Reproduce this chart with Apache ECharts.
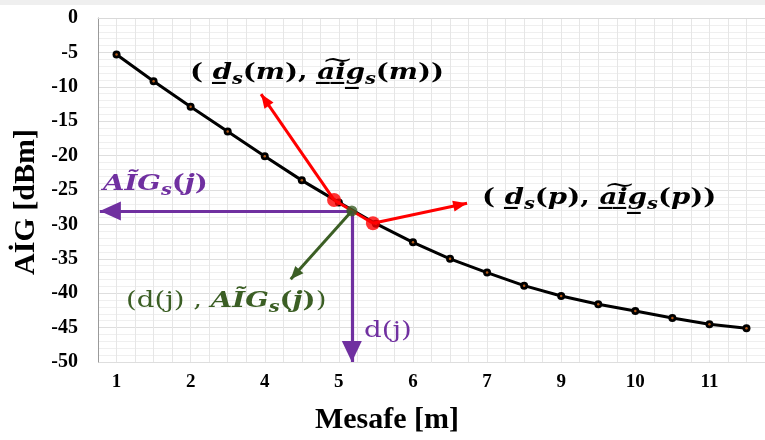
<!DOCTYPE html>
<html>
<head>
<meta charset="utf-8">
<script src="https://cdn.jsdelivr.net/npm/echarts@6/dist/echarts.min.js"></script>
<style>
  html, body { margin: 0; padding: 0; background: #fff; }
  #chart { width: 765px; height: 440px; }
</style>
</head>
<body>
<div id="chart"></div>
<script>
// Distance samples (m) along the measurement path
const distances = [1, 1.625, 2.25, 2.875, 3.5, 4.125, 4.75, 5.375, 6, 6.625, 7.25, 7.875, 8.5, 9.125, 9.75, 10.375, 11, 11.625];
// Received level (dBm) at each distance
const aigValues = [-5.3, -9.2, -12.9, -16.5, -20.1, -23.6, -26.8, -29.9, -32.6, -35.0, -37.0, -38.9, -40.4, -41.6, -42.6, -43.6, -44.5, -45.1];
// Value axis range
const yMin = -50, yMax = 0, yStep = 5;

// Annotation points (x in sample-index units, y in dBm)
const pointM = [5.87, -26.45];
const pointP = [6.92, -29.84];
const pointJ = [6.35, -28.05];
const tipM = [3.9, -11.05];
const tipP = [9.46, -26.93];
const tipJ = [4.70, -37.98];
const tipLeft = [-0.45, -28.05];
const tipDown = [6.35, -50];

const RED = '#ff0000', PURPLE = '#7030a0', GREEN = '#3b5e24';
const axisFont = 'Liberation Serif';
const mathFont = 'DejaVu Serif';
const mathStretch = 1.2;

function arrow(from, to, size) {
  return [
    { coord: from, symbol: 'none' },
    { coord: to, symbol: 'triangle', symbolSize: size, symbolOffset: [0, '50%'] }
  ];
}
function segment(from, to) {
  return [{ coord: from, symbol: 'none' }, { coord: to, symbol: 'none' }];
}

function mathRich(color, size) {
  return {
    b:   { fontFamily: mathFont, fontSize: size, fontWeight: 'bold', fill: color },
    r:   { fontFamily: mathFont, fontSize: size, fontWeight: 'normal', fill: color },
    bi:  { fontFamily: mathFont, fontSize: size, fontWeight: 'bold', fontStyle: 'italic', fill: color },
    sub: { fontFamily: mathFont, fontSize: Math.round(size * 0.68), fontWeight: 'bold', fontStyle: 'italic', fill: color, padding: [Math.round(size * 0.58), 0, 0, 0] }
  };
}

function mathLabel(x, y, text, color, size) {
  return {
    type: 'text', x: x, y: y, scaleX: mathStretch, silent: true, z: 10,
    style: { text: text, rich: mathRich(color, size), verticalAlign: 'middle', align: 'left' }
  };
}

const chart = echarts.init(document.getElementById('chart'), null, { renderer: 'canvas' });

const option = {
  animation: false,
  backgroundColor: '#ffffff',
  grid: { left: 98, top: 18, right: -8, bottom: 78, containLabel: false },
  xAxis: [
    {
      type: 'category',
      data: distances,
      boundaryGap: true,
      axisLine: { show: true, lineStyle: { color: '#d9d9d9', width: 1 } },
      axisTick: { show: false },
      axisLabel: {
        interval: 1,
        margin: 11,
        formatter: v => String(Math.round(Number(v))),
        fontFamily: axisFont, fontWeight: 'bold', fontSize: 19, color: '#000'
      },
      splitLine: { show: false }
    },
    {
      type: 'value',
      min: -0.5, max: 17.5, interval: 0.5,
      position: 'bottom',
      axisLine: { show: false }, axisTick: { show: false }, axisLabel: { show: false },
      splitLine: { show: true, lineStyle: { color: '#e6e6e6', width: 1 } }
    }
  ],
  yAxis: {
    type: 'value',
    min: yMin, max: yMax, interval: yStep,
    axisLine: { show: true, onZero: false, lineStyle: { color: '#9a9a9a', width: 1 } },
    axisTick: { show: false },
    axisLabel: { margin: 20, fontFamily: axisFont, fontWeight: 'bold', fontSize: 20, color: '#000' },
    splitLine: { show: true, lineStyle: { color: '#dedede', width: 1 } },
    minorTick: { show: false, splitNumber: 5 },
    minorSplitLine: { show: true, lineStyle: { color: '#efefef', width: 1 } }
  },
  series: [
    {
      type: 'line',
      xAxisIndex: 0,
      data: aigValues,
      symbol: 'circle', symbolSize: 8,
      lineStyle: { color: '#000', width: 3 },
      itemStyle: { color: '#000' },
      silent: true, z: 2
    },
    {
      type: 'scatter',
      xAxisIndex: 0,
      data: aigValues,
      symbolSize: 2.5,
      itemStyle: { color: '#e07020' },
      silent: true, z: 3
    },
    {
      type: 'scatter',
      xAxisIndex: 1,
      data: [pointM, pointP],
      symbolSize: 14,
      itemStyle: { color: RED },
      silent: true, z: 4,
      markLine: {
        silent: true, animation: false,
        symbol: ['none', 'triangle'],
        label: { show: false },
        lineStyle: { color: RED, width: 3, type: 'solid' },
        data: [segment(pointM, pointP), arrow(pointM, tipM, [11, 14]), arrow(pointP, tipP, [11, 14])]
      }
    },
    {
      type: 'scatter',
      xAxisIndex: 1,
      data: [pointJ],
      symbolSize: 0,
      silent: true, z: 5,
      markLine: {
        silent: true, animation: false,
        symbol: ['none', 'triangle'],
        label: { show: false },
        lineStyle: { color: PURPLE, width: 3.2, type: 'solid' },
        data: [arrow(pointJ, tipLeft, [19, 21]), arrow(pointJ, tipDown, [20, 21])]
      }
    },
    {
      type: 'scatter',
      xAxisIndex: 1,
      data: [pointJ],
      symbolSize: 11,
      itemStyle: { color: GREEN },
      silent: true, z: 7,
      markLine: {
        silent: true, animation: false,
        symbol: ['none', 'triangle'],
        label: { show: false },
        lineStyle: { color: GREEN, width: 3, type: 'solid' },
        data: [arrow(pointJ, tipJ, [11, 13])]
      }
    }
  ],
  graphic: [
    { type: 'rect', shape: { x: 0, y: 0, width: 765, height: 5 }, style: { fill: '#efefef' }, silent: true },
    {
      type: 'text', x: 26, y: 202, rotation: Math.PI / 2, silent: true,
      style: { text: 'AİG [dBm]', fontFamily: axisFont, fontWeight: 'bold', fontSize: 30, fill: '#000', align: 'center', verticalAlign: 'middle' }
    },
    {
      type: 'text', x: 387, y: 420, silent: true,
      style: { text: 'Mesafe [m]', fontFamily: axisFont, fontWeight: 'bold', fontSize: 30, fill: '#000', align: 'center', verticalAlign: 'middle' }
    },
    mathLabel(190, 73, '{b|( }{bi|d\u0332}{sub|s}{b|(}{bi|m}{b|), }{bi|a\u0332\u0360i\u0332g\u0332}{sub|s}{b|(}{bi|m}{b|))}', '#000', 23),
    mathLabel(482, 198, '{b|( }{bi|d\u0332}{sub|s}{b|(}{bi|p}{b|), }{bi|a\u0332\u0360i\u0332g\u0332}{sub|s}{b|(}{bi|p}{b|))}', '#000', 23),
    mathLabel(103, 184, '{bi|A\u0128G}{sub|s}{b|(}{bi|j}{b|)}', PURPLE, 23),
    mathLabel(126, 301, '{r|(d(j) , }{bi|A\u0128G}{sub|s}{b|(}{bi|j}{b|)}{r|)}', GREEN, 23),
    mathLabel(364, 331, '{r|d(j)}', PURPLE, 23)
  ]
};

chart.setOption(option);
</script>
</body>
</html>
